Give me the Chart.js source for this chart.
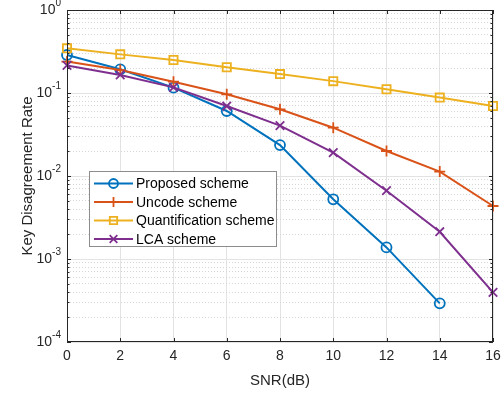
<!DOCTYPE html>
<html>
<head>
<meta charset="utf-8">
<script src="https://cdn.jsdelivr.net/npm/chart.js@4.4.0/dist/chart.umd.min.js"></script>
<style>
  html, body { margin: 0; padding: 0; background: #fff; }
</style>
</head>
<body>
<canvas id="kdr" width="501" height="397"></canvas>
<script>
// SNR in dB (x axis)
const snr = [0, 2, 4, 6, 8, 10, 12, 14, 16];
// key disagreement rate for each scheme
const proposed = [0.287, 0.193, 0.116, 0.0607, 0.0236, 0.00524, 0.00138, 0.000292];
const uncode = [0.239, 0.189, 0.137, 0.0964, 0.0636, 0.0382, 0.0200, 0.0113, 0.00435];
const quantification = [0.345, 0.292, 0.250, 0.204, 0.169, 0.139, 0.111, 0.088, 0.0697];
const lca = [0.215, 0.165, 0.117, 0.0697, 0.0404, 0.0191, 0.00665, 0.00213, 0.000397];
// y decades shown as 10^e
const yExp = [-4, -3, -2, -1, 0];

const FONT = "'Liberation Sans', Arial, sans-serif";
const AXC = '#262626';

// all log ticks: 1..9 x 10^e
const yTicks = [];
yExp.forEach(function (e) {
  for (let m = 1; m <= 9; m++) {
    if (e === 0 && m > 1) break;
    yTicks.push(m * Math.pow(10, e));
  }
});
function isMajor(v) {
  const l = Math.log10(v);
  return Math.abs(l - Math.round(l)) < 1e-9;
}

function pts(arr) {
  return arr.map(function (v, i) { return { x: snr[i], y: v }; });
}

const series = [
  { label: 'Proposed scheme', data: proposed, color: '#0072BD', style: 'circle', r: 5, order: 4 },
  { label: 'Uncode scheme', data: uncode, color: '#D95319', style: 'cross', r: 5.5, order: 3 },
  { label: 'Quantification scheme', data: quantification, color: '#EDB120', style: 'rect', r: 5.8, order: 2 },
  { label: 'LCA scheme', data: lca, color: '#7E2F8E', style: 'crossRot', r: 6, order: 1 }
];

function drawMarker(ctx, style, x, y, r) {
  ctx.beginPath();
  if (style === 'circle') {
    ctx.arc(x, y, r, 0, Math.PI * 2);
  } else if (style === 'cross') {
    ctx.moveTo(x - r, y); ctx.lineTo(x + r, y);
    ctx.moveTo(x, y - r); ctx.lineTo(x, y + r);
  } else if (style === 'rect') {
    const s = r * Math.SQRT1_2;
    ctx.rect(x - s, y - s, 2 * s, 2 * s);
  } else if (style === 'crossRot') {
    const s = r * Math.SQRT1_2;
    ctx.moveTo(x - s, y - s); ctx.lineTo(x + s, y + s);
    ctx.moveTo(x - s, y + s); ctx.lineTo(x + s, y - s);
  }
  ctx.stroke();
}

const matlabFrame = {
  id: 'matlabFrame',
  afterDraw(chart) {
    const ctx = chart.ctx;
    const a = chart.chartArea;
    const xs = chart.scales.x, ys = chart.scales.y;
    ctx.save();

    // axes box
    ctx.strokeStyle = AXC;
    ctx.lineWidth = 1;
    ctx.strokeRect(Math.round(a.left) + 0.5, Math.round(a.top) + 0.5,
      Math.round(a.right - a.left) - 1, Math.round(a.bottom - a.top) - 1);

    // inward ticks
    ctx.beginPath();
    snr.forEach(function (v) {
      const px = Math.round(xs.getPixelForValue(v)) + 0.5;
      ctx.moveTo(px, a.bottom); ctx.lineTo(px, a.bottom - 4);
      ctx.moveTo(px, a.top); ctx.lineTo(px, a.top + 4);
    });
    yTicks.forEach(function (v) {
      const py = Math.round(ys.getPixelForValue(v)) + 0.5;
      const len = isMajor(v) ? 4 : 2.5;
      ctx.moveTo(a.left, py); ctx.lineTo(a.left + len, py);
      ctx.moveTo(a.right, py); ctx.lineTo(a.right - len, py);
    });
    ctx.stroke();

    // y tick labels 10^e
    ctx.fillStyle = AXC;
    ctx.textBaseline = 'middle';
    ctx.textAlign = 'left';
    yExp.forEach(function (e) {
      const py = ys.getPixelForValue(Math.pow(10, e));
      ctx.font = '10px ' + FONT;
      const es = String(e);
      const ew = ctx.measureText(es).width;
      ctx.font = '14px ' + FONT;
      const bw = ctx.measureText('10').width;
      const xr = a.left - 6;
      ctx.fillText('10', xr - ew - bw, py);
      ctx.font = '10px ' + FONT;
      ctx.fillText(es, xr - ew, py - 7);
    });

    // legend
    const lx = 89.5, ly = 171.5, lw = 187, lh = 75;
    ctx.fillStyle = '#fff';
    ctx.fillRect(lx, ly, lw, lh);
    ctx.strokeStyle = '#8c8c8c';
    ctx.lineWidth = 1;
    ctx.strokeRect(lx, ly, lw, lh);
    const rows = [183.5, 202, 220.5, 239];
    ctx.font = '14px ' + FONT;
    series.forEach(function (s, i) {
      const cy = rows[i];
      ctx.strokeStyle = s.color;
      ctx.lineWidth = 2;
      ctx.beginPath();
      ctx.moveTo(94, cy); ctx.lineTo(133, cy);
      ctx.stroke();
      ctx.lineWidth = 1.8;
      drawMarker(ctx, s.style, 113.5, cy, s.r * 0.9);
      ctx.fillStyle = '#000';
      ctx.textAlign = 'left';
      ctx.textBaseline = 'middle';
      ctx.fillText(s.label, 136, cy + 1);
    });

    ctx.restore();
  }
};

new Chart(document.getElementById('kdr'), {
  type: 'line',
  data: {
    datasets: series.map(function (s) {
      return {
        label: s.label,
        data: pts(s.data),
        borderColor: s.color,
        backgroundColor: 'transparent',
        borderWidth: 2,
        pointStyle: s.style,
        pointRadius: s.r,
        pointBorderColor: s.color,
        pointBackgroundColor: 'rgba(0,0,0,0)',
        pointBorderWidth: 1.8,
        tension: 0,
        fill: false,
        clip: false,
        order: s.order
      };
    })
  },
  options: {
    responsive: false,
    animation: false,
    events: [],
    layout: { padding: { top: 10, right: 8, left: 0, bottom: 0 } },
    plugins: {
      legend: { display: false },
      tooltip: { enabled: false }
    },
    scales: {
      x: {
        type: 'linear',
        min: 0,
        max: 16,
        afterFit(scale) {
          scale.height = 55;
          scale.paddingLeft = 0;
          scale.paddingRight = 0;
        },
        ticks: {
          stepSize: 2,
          color: AXC,
          padding: 6,
          maxRotation: 0,
          font: { family: FONT, size: 14 }
        },
        grid: { color: '#e3e3e3', lineWidth: 1, drawTicks: false },
        border: { display: false },
        title: {
          display: true,
          text: 'SNR(dB)',
          color: AXC,
          font: { family: FONT, size: 15 },
          padding: { top: 0, bottom: 7 }
        }
      },
      y: {
        type: 'logarithmic',
        min: 1e-4,
        max: 1,
        afterFit(scale) { scale.width = 67; },
        afterBuildTicks(scale) {
          scale.ticks = yTicks.map(function (v) { return { value: v, major: isMajor(v) }; });
        },
        ticks: { display: false },
        grid: {
          drawTicks: false,
          lineWidth: 1,
          color(ctx) {
            return ctx.tick && isMajor(ctx.tick.value) ? '#e3e3e3' : '#d6d6d6';
          }
        },
        border: {
          display: false,
          dash(ctx) {
            return ctx.tick && isMajor(ctx.tick.value) ? [] : [1, 2];
          }
        },
        title: {
          display: true,
          text: 'Key Disagreement Rate',
          color: AXC,
          font: { family: FONT, size: 15 },
          padding: { top: 19, bottom: 0 }
        }
      }
    }
  },
  plugins: [matlabFrame]
});
</script>
</body>
</html>
